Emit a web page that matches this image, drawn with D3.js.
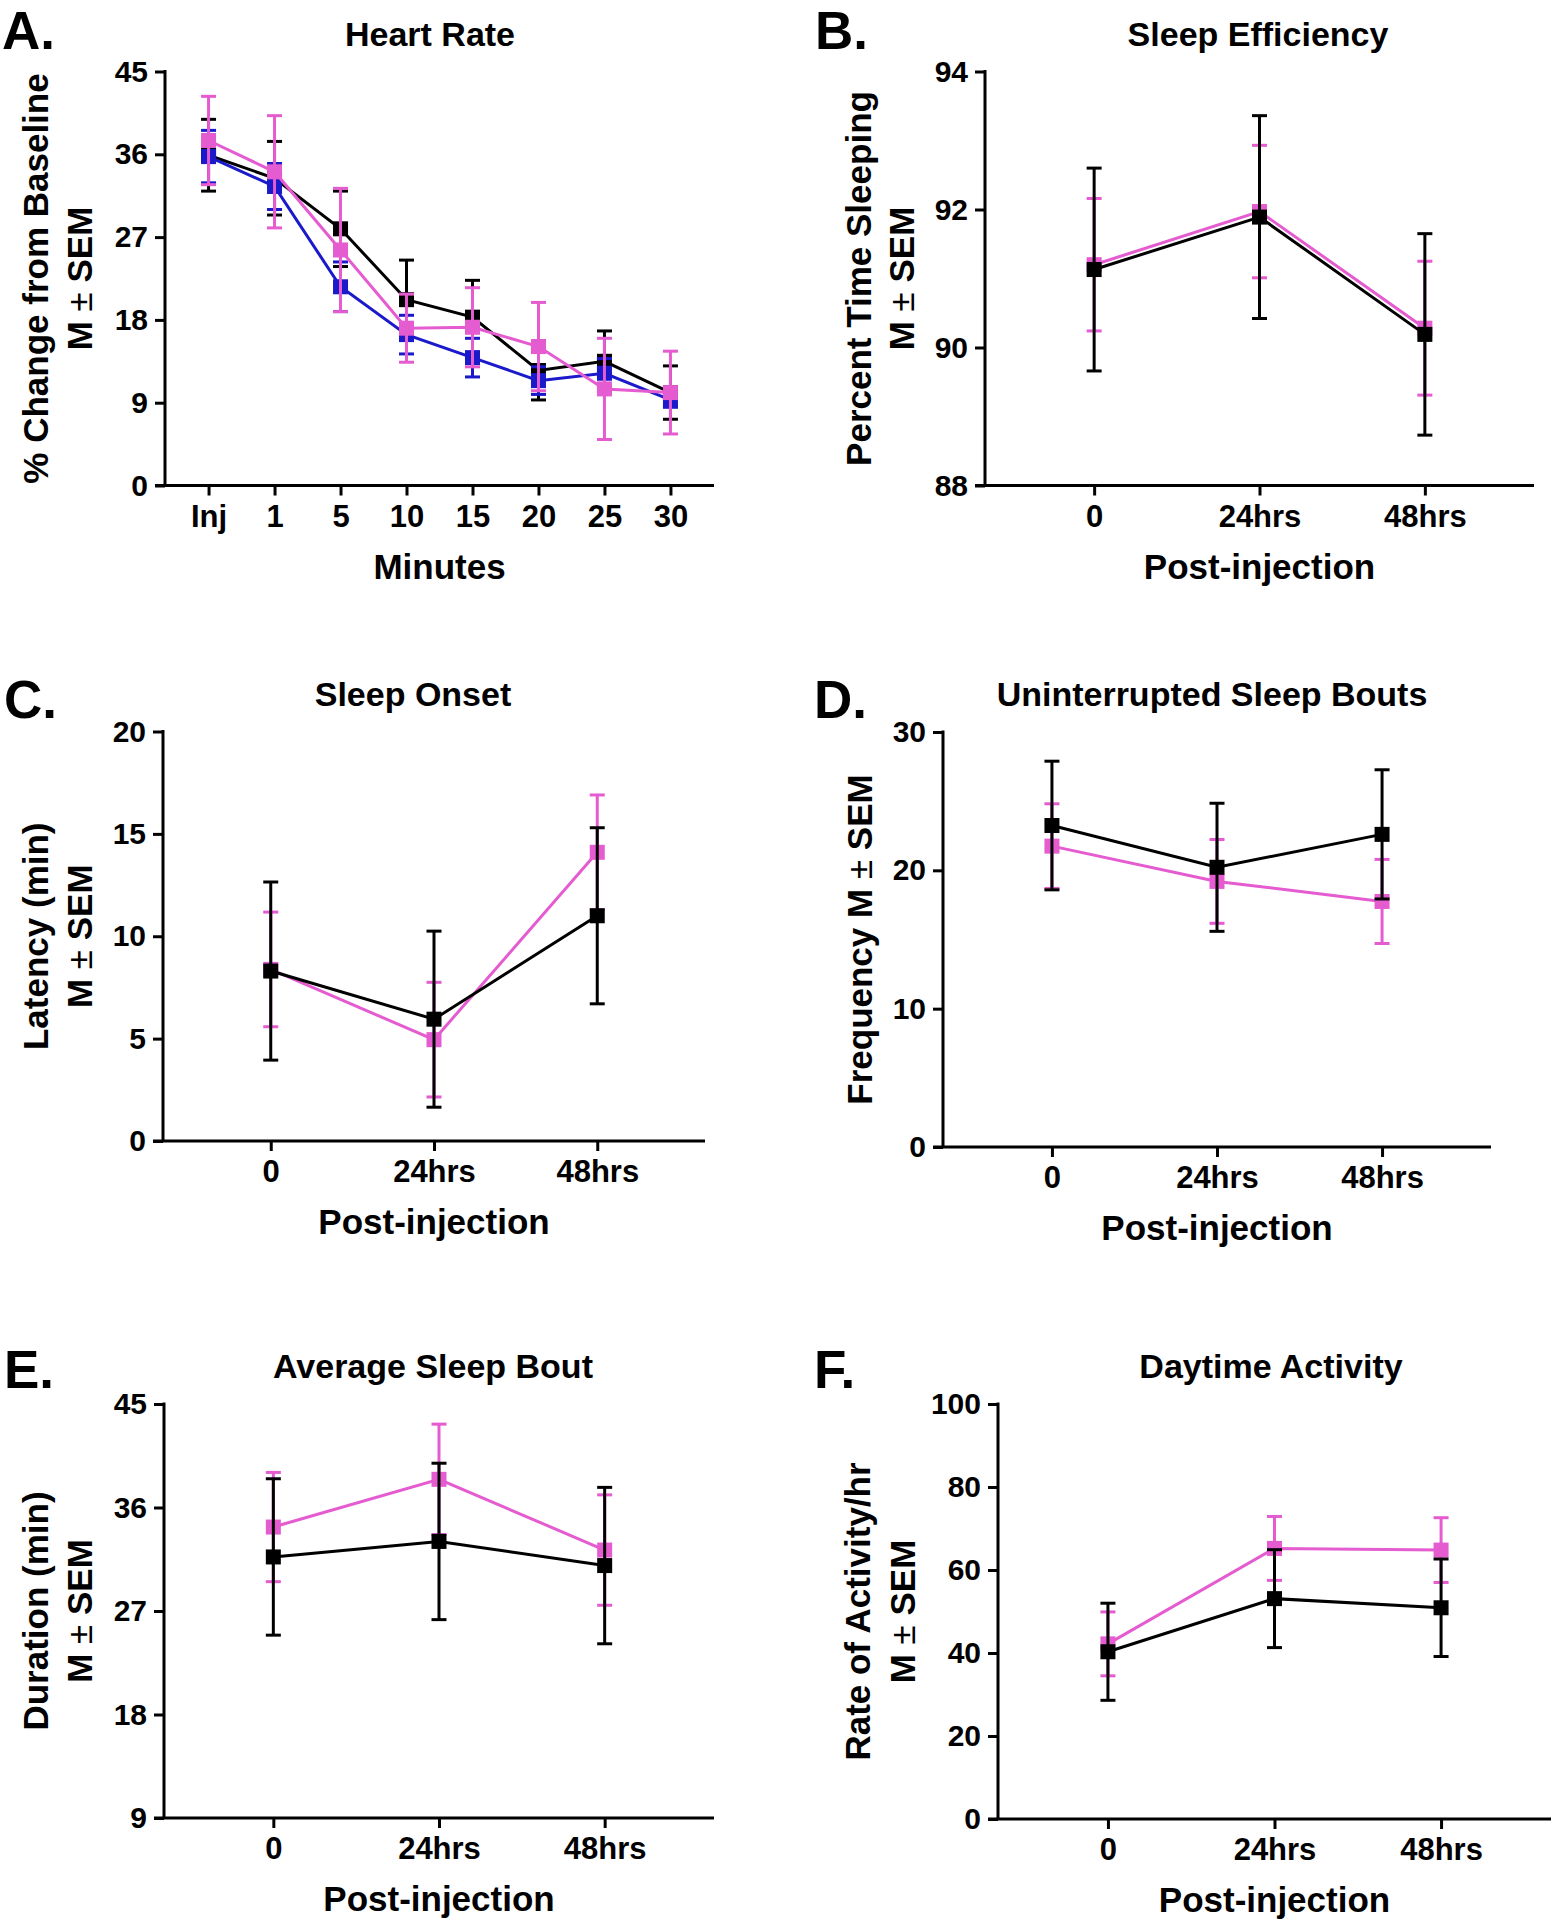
<!DOCTYPE html>
<html>
<head>
<meta charset="utf-8">
<script src="https://cdn.jsdelivr.net/npm/d3@7"></script>
<style>
  html, body { margin: 0; padding: 0; background: #fff; }
  svg { display: block; }
  text { font-family: "Liberation Sans", Arial, Helvetica, sans-serif; font-weight: bold; fill: #000; }
</style>
</head>
<body>
<svg id="fig" width="1555" height="1920"></svg>
<script>
// ---------------- DATA ----------------
const minuteCats = ["Inj", "1", "5", "10", "15", "20", "25", "30"];
const postCats = ["0", "24hrs", "48hrs"];

// A. Heart Rate (% change from baseline)
const hrBlackMean = [35.9, 33.4, 27.9, 20.2, 18.3, 12.5, 13.5, 10.1];
const hrBlackSem  = [3.9, 4.0, 4.1, 4.3, 4.0, 3.2, 3.3, 2.9];
const hrBlueMean  = [35.75, 32.5, 21.6, 16.4, 13.9, 11.4, 12.2, 9.3];
const hrBlueSem   = [2.85, 2.5, 2.7, 2.1, 2.1, 1.5, 1.6, 0.8];
const hrPinkMean  = [37.5, 34.1, 25.6, 17.1, 17.2, 15.1, 10.5, 10.1];
const hrPinkSem   = [4.8, 6.1, 6.7, 3.7, 4.3, 4.8, 5.5, 4.5];
const hrTicks = [0, 9, 18, 27, 36, 45];

// B. Sleep Efficiency
const seBlackMean = [91.13, 91.89, 90.19];
const seBlackSem  = [1.47, 1.47, 1.46];
const sePinkMean  = [91.2, 91.97, 90.28];
const sePinkSem   = [0.96, 0.96, 0.97];
const seTicks = [88, 90, 92, 94];

// C. Sleep Onset
const soBlackMean = [8.3, 5.95, 11.0];
const soBlackSem  = [4.35, 4.3, 4.3];
const soPinkMean  = [8.38, 4.95, 14.1];
const soPinkSem   = [2.8, 2.8, 2.8];
const soTicks = [0, 5, 10, 15, 20];

// D. Uninterrupted Sleep Bouts
const usBlackMean = [23.24, 20.22, 22.6];
const usBlackSem  = [4.65, 4.63, 4.67];
const usPinkMean  = [21.75, 19.2, 17.75];
const usPinkSem   = [3.06, 3.03, 3.04];
const usTicks = [0, 10, 20, 30];

// E. Average Sleep Bout
const asBlackMean = [31.7, 33.05, 30.95];
const asBlackSem  = [6.8, 6.8, 6.8];
const asPinkMean  = [34.3, 38.45, 32.3];
const asPinkSem   = [4.75, 4.8, 4.8];
const asTicks = [9, 18, 27, 36, 45];

// F. Daytime Activity
const daBlackMean = [40.3, 53.1, 50.9];
const daBlackSem  = [11.7, 11.8, 11.75];
const daPinkMean  = [42.2, 65.2, 64.8];
const daPinkSem   = [7.7, 7.7, 7.8];
const daTicks = [0, 20, 40, 60, 80, 100];

// ---------------- STYLE ----------------
const BLACK = "#000000", BLUE = "#1a1acb", PINK = "#e55bd0";

const panels = [
  { letter: "A.", title: "Heart Rate", xTitle: "Minutes", yTitle: ["% Change from Baseline", "M \u00B1 SEM"],
    cats: minuteCats, ticks: hrTicks,
    series: [[hrBlackMean, hrBlackSem, BLACK], [hrBlueMean, hrBlueSem, BLUE], [hrPinkMean, hrPinkSem, PINK]],
    L: { x0: 165, x1: 714, yTop: 71.5, yBot: 485.5, titleX: 430, letterX: 2, letterY: 49, yLab: [48, 92] } },
  { letter: "B.", title: "Sleep Efficiency", xTitle: "Post-injection", yTitle: ["Percent Time Sleeping", "M \u00B1 SEM"],
    cats: postCats, ticks: seTicks,
    series: [[sePinkMean, sePinkSem, PINK], [seBlackMean, seBlackSem, BLACK]],
    L: { x0: 985, x1: 1534, yTop: 71.5, yBot: 485.5, titleX: 1258, letterX: 815, letterY: 49, yLab: [871, 914] } },
  { letter: "C.", title: "Sleep Onset", xTitle: "Post-injection", yTitle: ["Latency (min)", "M \u00B1 SEM"],
    cats: postCats, ticks: soTicks,
    series: [[soPinkMean, soPinkSem, PINK], [soBlackMean, soBlackSem, BLACK]],
    L: { x0: 163, x1: 705, yTop: 731.5, yBot: 1141, titleX: 413, letterX: 4, letterY: 718, yLab: [48, 92] } },
  { letter: "D.", title: "Uninterrupted Sleep Bouts", xTitle: "Post-injection", yTitle: ["Frequency M \u00B1 SEM"],
    cats: postCats, ticks: usTicks,
    series: [[usPinkMean, usPinkSem, PINK], [usBlackMean, usBlackSem, BLACK]],
    L: { x0: 943, x1: 1491, yTop: 732, yBot: 1147, titleX: 1212, letterX: 814, letterY: 718, yLab: [872] } },
  { letter: "E.", title: "Average Sleep Bout", xTitle: "Post-injection", yTitle: ["Duration (min)", "M \u00B1 SEM"],
    cats: postCats, ticks: asTicks,
    series: [[asPinkMean, asPinkSem, PINK], [asBlackMean, asBlackSem, BLACK]],
    L: { x0: 164, x1: 714, yTop: 1404, yBot: 1818, titleX: 433, letterX: 4, letterY: 1388, yLab: [48, 92] } },
  { letter: "F.", title: "Daytime Activity", xTitle: "Post-injection", yTitle: ["Rate of Activity/hr", "M \u00B1 SEM"],
    cats: postCats, ticks: daTicks,
    series: [[daPinkMean, daPinkSem, PINK], [daBlackMean, daBlackSem, BLACK]],
    L: { x0: 998, x1: 1551, yTop: 1404, yBot: 1819, titleX: 1271, letterX: 814, letterY: 1388, yLab: [870, 915] } }
];

const svg = d3.select("#fig");
const SW = 3, TICK = 10, MARK = 15, CAP = 15;

function addTitleText(sel, str) {
  // render "±" in a lighter weight like the original
  const parts = str.split("\u00B1");
  parts.forEach((p, i) => {
    sel.append("tspan").text(p);
    if (i < parts.length - 1) sel.append("tspan").attr("font-weight", "normal").text("\u00B1");
  });
}

panels.forEach(P => {
  const L = P.L;
  const g = svg.append("g");
  const x = d3.scalePoint().domain(P.cats).range([L.x0, L.x1]).padding(0.66);
  const y = d3.scaleLinear().domain([P.ticks[0], P.ticks[P.ticks.length - 1]]).range([L.yBot, L.yTop]);

  // panel letter
  g.append("text").attr("x", L.letterX).attr("y", L.letterY)
    .attr("font-size", 53).text(P.letter);
  // title
  g.append("text").attr("x", L.titleX).attr("y", L.yTop - 26)
    .attr("text-anchor", "middle").attr("font-size", 34).text(P.title);

  // Y axis
  const yAx = g.append("g").attr("transform", `translate(${L.x0},0)`)
    .call(d3.axisLeft(y).tickValues(P.ticks).tickSize(TICK).tickPadding(7).tickFormat(d3.format("d")));
  yAx.select(".domain").remove();
  yAx.selectAll(".tick line").attr("stroke", "#000").attr("stroke-width", SW);
  yAx.selectAll(".tick text").attr("font-size", 30).attr("font-family", null).attr("fill", "#000");
  g.append("line").attr("x1", L.x0).attr("x2", L.x0)
    .attr("y1", y.range()[1] - SW / 2).attr("y2", y.range()[0])
    .attr("stroke", "#000").attr("stroke-width", SW);

  // X axis
  const xAx = g.append("g").attr("transform", `translate(0,${L.yBot})`)
    .call(d3.axisBottom(x).tickSize(TICK).tickPadding(9));
  xAx.select(".domain").remove();
  xAx.selectAll(".tick line").attr("stroke", "#000").attr("stroke-width", SW);
  xAx.selectAll(".tick text").attr("font-size", 31).attr("font-family", null).attr("fill", "#000");
  g.append("line").attr("x1", L.x0 - TICK).attr("x2", L.x1)
    .attr("y1", L.yBot).attr("y2", L.yBot)
    .attr("stroke", "#000").attr("stroke-width", SW);

  // X title
  const xMid = (x(P.cats[0]) + x(P.cats[P.cats.length - 1])) / 2;
  g.append("text").attr("x", xMid).attr("y", L.yBot + 93)
    .attr("text-anchor", "middle").attr("font-size", 35).text(P.xTitle);

  // Y title lines
  const yMid = (L.yTop + L.yBot) / 2;
  P.yTitle.forEach((t, i) => {
    const tx = g.append("text")
      .attr("transform", `translate(${L.yLab[i]},${yMid}) rotate(-90)`)
      .attr("text-anchor", "middle").attr("font-size", 35);
    addTitleText(tx, t);
  });

  // Series
  P.series.forEach(([mean, sem, color]) => {
    const pts = P.cats.map((c, i) => ({ c, m: mean[i], s: sem[i] }));
    const sg = g.append("g");
    // error bars
    const eb = sg.selectAll(".eb").data(pts).enter().append("g");
    eb.append("line")
      .attr("x1", d => x(d.c)).attr("x2", d => x(d.c))
      .attr("y1", d => y(d.m + d.s)).attr("y2", d => y(d.m - d.s))
      .attr("stroke", color).attr("stroke-width", SW);
    [1, -1].forEach(sgn => {
      eb.append("line")
        .attr("x1", d => x(d.c) - CAP / 2).attr("x2", d => x(d.c) + CAP / 2)
        .attr("y1", d => y(d.m + sgn * d.s)).attr("y2", d => y(d.m + sgn * d.s))
        .attr("stroke", color).attr("stroke-width", SW);
    });
    // line
    sg.append("path").datum(pts)
      .attr("d", d3.line().x(d => x(d.c)).y(d => y(d.m)))
      .attr("fill", "none").attr("stroke", color).attr("stroke-width", SW);
    // markers
    sg.selectAll(".mk").data(pts).enter().append("rect")
      .attr("x", d => x(d.c) - MARK / 2).attr("y", d => y(d.m) - MARK / 2)
      .attr("width", MARK).attr("height", MARK).attr("fill", color);
  });
});
</script>
</body>
</html>
